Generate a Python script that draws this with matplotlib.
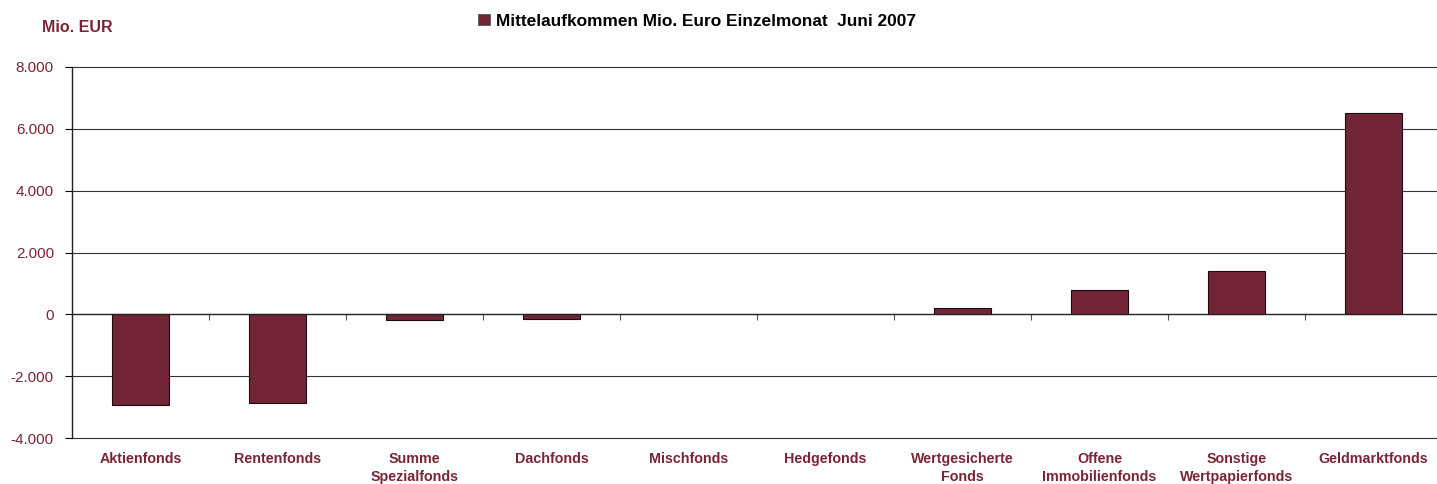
import matplotlib
matplotlib.use("Agg")
import matplotlib.pyplot as plt
from matplotlib.patches import Patch
import matplotlib.transforms as mtransforms

categories = ["Aktienfonds", "Rentenfonds", "Summe\nSpezialfonds", "Dachfonds", "Mischfonds",
              "Hedgefonds", "Wertgesicherte\nFonds", "Offene\nImmobilienfonds",
              "Sonstige\nWertpapierfonds", "Geldmarktfonds"]
values = [-2930, -2870, -175, -150, 0, 0, 220, 790, 1400, 6520]
yticks = [-4000, -2000, 0, 2000, 4000, 6000, 8000]
ytick_labels = ["-4.000", "-2.000", "0", "2.000", "4.000", "6.000", "8.000"]
series_name = "Mittelaufkommen Mio. Euro Einzelmonat  Juni 2007"

MAROON = "#722537"
LABEL = "#7a2535"

plt.rcParams['font.family'] = ['Liberation Sans', 'DejaVu Sans']

W, H = 1437, 484
fig = plt.figure(figsize=(W / 100, H / 100), dpi=100)
left, right = 72, 1442
top, bottom = 67, 438
ax = fig.add_axes([left / W, 1 - bottom / H, (right - left) / W, (bottom - top) / H])

n = len(categories)
x = list(range(n))
lws = [0.8 if v != 0 else 0 for v in values]
ax.bar(x, values, width=0.41, color=MAROON, edgecolor="#1a0a0e", linewidth=lws, zorder=3)

ax.set_xlim(-0.5, n - 0.5)
ax.set_ylim(-4000, 8000)
ax.set_yticks(yticks)
ax.set_yticklabels(ytick_labels, color=LABEL, fontsize=11)
ax.tick_params(axis='y', direction='out', length=5, width=0.8, color='black', pad=8)

for yv in yticks:
    if yv != 0:
        ax.axhline(yv, color='#333333', linewidth=0.8, zorder=1, clip_on=False)

for s in ['top', 'right']:
    ax.spines[s].set_visible(False)
ax.spines['left'].set_color('#222222')
ax.spines['left'].set_linewidth(1.0)
ax.spines['bottom'].set_position(('data', 0))
ax.spines['bottom'].set_color('#222222')
ax.spines['bottom'].set_linewidth(1.0)
ax.spines['bottom'].set_zorder(4)

ax.set_xticks([i + 0.5 for i in range(n)])
ax.set_xticklabels([])
ax.tick_params(axis='x', direction='out', length=4, width=0.8, color='#555555')

trans = mtransforms.blended_transform_factory(ax.transData, ax.transAxes)
for i, c in enumerate(categories):
    ax.text(i, -0.038, c, transform=trans, ha='center', va='top', fontsize=10.3,
            fontweight='bold', color=LABEL, linespacing=1.4)

fig.text(42 / W, 1 - 27 / H, "Mio. EUR", ha='left', va='center', fontsize=11.5,
         fontweight='bold', color=LABEL)

handle = Patch(facecolor=MAROON, edgecolor='#555555', linewidth=0.6)
fig.legend([handle], [series_name], loc='center', bbox_to_anchor=(697 / W, 1 - 21 / H),
           frameon=False, handlelength=0.65, handleheight=0.65, handletextpad=0.35,
           prop={'weight': 'bold', 'size': 12.4})

fig.savefig("out.png", dpi=100)
